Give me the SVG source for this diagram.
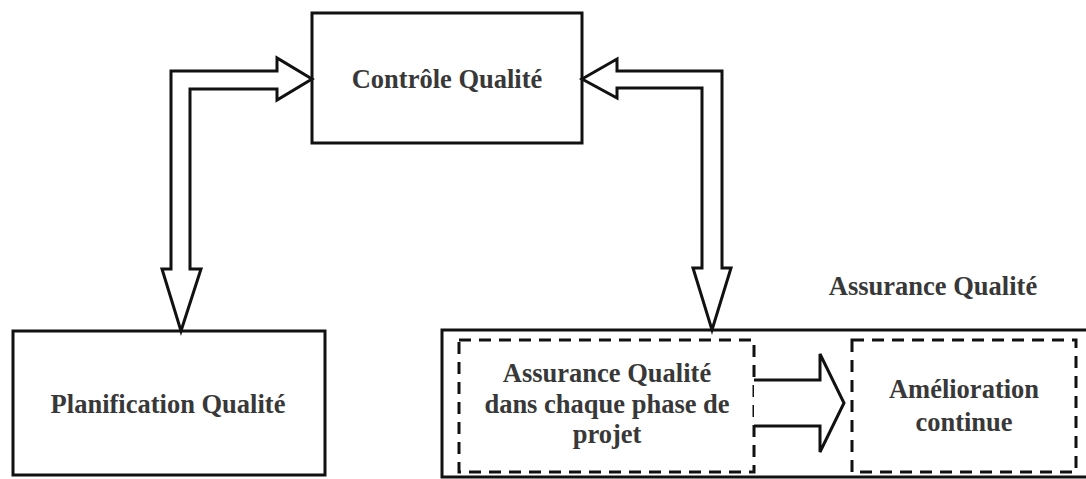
<svg xmlns="http://www.w3.org/2000/svg" width="1086" height="479" viewBox="0 0 1086 479">
<style>
.box{fill:#fff;stroke:#111;stroke-width:3}
.dash{fill:none;stroke:#111;stroke-width:3;stroke-dasharray:12 8}
.arrow{fill:#fff;stroke:#111;stroke-width:3;stroke-linejoin:miter}
.t{font-family:'Liberation Serif','DejaVu Serif',serif;font-weight:700;font-size:26.5px;fill:#383838;text-anchor:middle}
</style>
<rect width="1086" height="479" fill="#fff"/>
<g id="controle">
<rect class="box" x="312" y="13" width="270" height="130"/>
<text class="t" x="447" y="88">Contrôle Qualité</text>
</g>
<g id="planification">
<rect class="box" x="13" y="331" width="312" height="144"/>
<text class="t" x="168" y="413">Planification Qualité</text>
</g>
<g id="assurance">
<rect class="box" x="442" y="330" width="700" height="147"/>
<text class="t" x="933" y="295">Assurance Qualité</text>
</g>
<g id="assurance-phase">
<rect class="dash" x="459" y="340" width="295" height="132"/>
<text class="t" x="607" y="382">Assurance Qualité</text>
<text class="t" x="607" y="413">dans chaque phase de</text>
<text class="t" x="607" y="443">projet</text>
</g>
<g id="amelioration">
<rect class="dash" x="852" y="340" width="224" height="132"/>
<text class="t" x="964" y="398">Amélioration</text>
<text class="t" x="964" y="431">continue</text>
</g>
<g id="connectors">
<path class="arrow" d="M171,269 V71 H277 V58 L312,79 L277,100 V89 H190 V269 H201 L181,331 L162,269 Z"/>
<path class="arrow" d="M582,79 L617,59 V71 H722 V268 H731 L712,330 L693,268 H702 V88 H617 V98 Z"/>
<path class="arrow" d="M754,380 H820 V354 L844,403 L820,452 V426 H754"/>
</g>
</svg>
